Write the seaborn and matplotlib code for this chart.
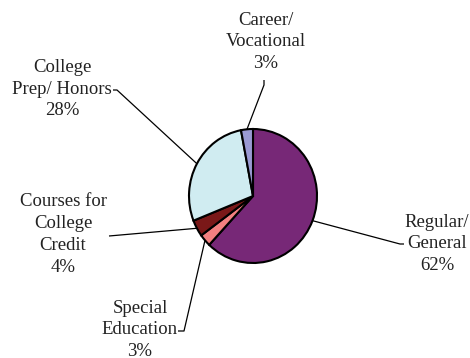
import matplotlib
matplotlib.use("Agg")
import matplotlib.pyplot as plt
import numpy as np
import seaborn as sns

# Share of students by program type
categories = ["Regular/\nGeneral", "Special\nEducation", "Courses for\nCollege\nCredit",
              "College\nPrep/ Honors", "Career/\nVocational"]
shares = [62, 3, 4, 28, 3]
colors = ["#772877", "#F28080", "#7A1818", "#D0ECF1", "#9A9AD4"]

sns.set_theme(style="white")
plt.rcParams["font.family"] = ["Liberation Serif", "DejaVu Serif"]

W, H = 470, 358
fig = plt.figure(figsize=(W / 100, H / 100), dpi=100)
fig.patch.set_facecolor("white")

# pie lives in its own axes (slightly taller than wide)
cx, cy, rx, ry = 253, 196, 64, 67
ax_pie = fig.add_axes([(cx - rx) / W, (H - cy - ry) / H, 2 * rx / W, 2 * ry / H])
wedges, _ = ax_pie.pie(shares, colors=sns.color_palette(colors), startangle=90,
                       counterclock=False, radius=1.0,
                       wedgeprops=dict(edgecolor="black", linewidth=1.5))
ax_pie.set_xlim(-1, 1)
ax_pie.set_ylim(-1, 1)
ax_pie.set_aspect("auto")
ax_pie.axis("off")

# overlay in pixel-like coordinates for labels and leader lines
ax = fig.add_axes([0, 0, 1, 1], zorder=2)
ax.set_xlim(0, W)
ax.set_ylim(H, 0)
ax.axis("off")
ax.patch.set_alpha(0)


def edge_point(w):
    t = np.deg2rad((w.theta1 + w.theta2) / 2)
    disp = ax_pie.transData.transform((np.cos(t), np.sin(t)))
    return ax.transData.inverted().transform(disp)


label_pos = [(437, 244), (140, 330), (63, 234.5), (62, 89), (266, 42)]
leader_tail = [
    [(400, 244), (404, 244)],
    [(184, 331), (178, 331)],
    [(109, 236)],
    [(117, 90), (113, 90)],
    [(264, 85), (264, 80)],
]

for w, cat, val, (tx, ty), tail in zip(wedges, categories, shares, label_pos, leader_tail):
    ex, ey = edge_point(w)
    xs = [ex] + [p[0] for p in tail]
    ys = [ey] + [p[1] for p in tail]
    ax.plot(xs, ys, color="black", linewidth=0.9, solid_capstyle="butt")
    ax.text(tx, ty, f"{cat}\n{val}%", ha="center", va="center", multialignment="center",
            fontsize=13.5, color="#222222", linespacing=1.36)

fig.savefig("out.png", dpi=100)
